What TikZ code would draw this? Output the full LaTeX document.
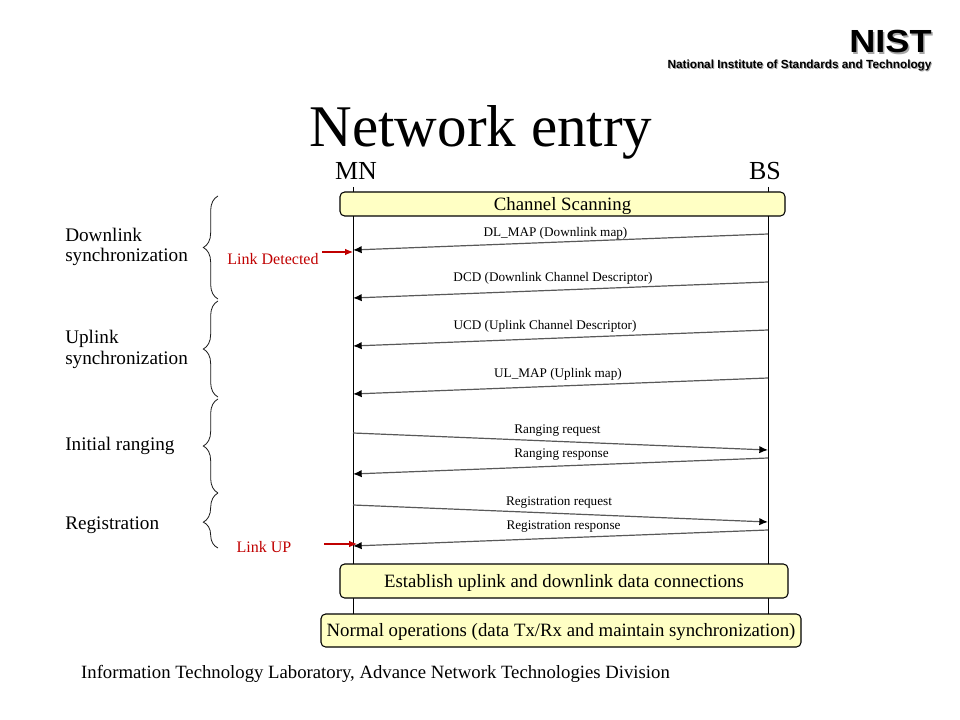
\documentclass[tikz,border=0pt]{standalone}
\usepackage{fontspec}
\setmainfont{Liberation Serif}
\newfontfamily\logofont{Liberation Sans}
\usetikzlibrary{arrows.meta,decorations.pathreplacing}
\definecolor{boxyellow}{HTML}{FFFFC4}
\definecolor{linkred}{HTML}{C00000}
\tikzset{
  lifeline/.style={draw=black, line width=0.6pt},
  msg/.style={draw=black!65, line width=0.9pt, -{Latex[black,length=6.5pt,width=5.5pt]}},
  msglabel/.style={inner sep=0pt, font=\fontsize{9.9}{11}\selectfont},
  phasebox/.style={draw=black, line width=0.8pt, fill=boxyellow, rounded corners=3.5pt, inner sep=0pt, text height=12.5pt, text depth=3pt, font=\fontsize{14.1}{16}\selectfont},
  phase/.style={inner sep=0pt, anchor=west, align=left, font=\fontsize{14.4}{15.4}\selectfont},
  linklabel/.style={inner sep=0pt, text=linkred, font=\fontsize{12}{14}\selectfont},
  linkarrow/.style={draw=linkred, line width=0.8pt, -{Latex[length=6pt,width=5pt]}},
  phasebrace/.style={draw=black!90, line width=0.6pt, decorate},
  logomark/.style={inner sep=0pt, text height=17pt, text depth=0pt, xscale=1.13, transform shape, font=\logofont\bfseries\fontsize{24}{24}\selectfont},
  logoname/.style={inner sep=0pt, text height=6.5pt, text depth=1.5pt, font=\logofont\bfseries\fontsize{8.85}{10}\selectfont},
}
\begin{document}
\begin{tikzpicture}[x=0.75pt, y=-0.75pt]
  \useasboundingbox (0,0) rectangle (960,720);

  % logo
  \node[logomark, text=black!35] (nistshadow) at (892,43) {NIST};
  \node[logomark] (nist) at (890.5,41.5) {NIST};
  \node[logoname, text=black!35] (nistnameshadow) at (800.5,66) {National Institute of Standards and Technology};
  \node[logoname] (nistname) at (799.5,65) {National Institute of Standards and Technology};

  \node[inner sep=0pt, font=\fontsize{44.3}{50}\selectfont] (title) at (481,132) {Network entry};
  \node[inner sep=0pt, font=\fontsize{19.5}{22}\selectfont] (mn) at (356,171) {MN};
  \node[inner sep=0pt, font=\fontsize{19.5}{22}\selectfont] (bs) at (765,171) {BS};

  % lifelines
  \coordinate (mntop) at (353,187);
  \coordinate (mnbot) at (353,615);
  \coordinate (bstop) at (768,187);
  \coordinate (bsbot) at (768,615);
  \draw[lifeline] (mntop) -- (mnbot);
  \draw[lifeline] (bstop) -- (bsbot);

  \node[phasebox, minimum width=333.75pt, minimum height=18pt] (scan) at (562.5,204) {Channel Scanning};
  \node[phasebox, minimum width=336pt, minimum height=25.5pt] (establish) at (564,581) {Establish uplink and downlink data connections};
  \node[phasebox, minimum width=360pt, minimum height=24.75pt] (normal) at (561,630.5) {Normal operations (data Tx/Rx and maintain synchronization)};

  % messages
  \coordinate (dlmapb) at (768,234);
  \coordinate (dlmapm) at (353,250);
  \coordinate (dcdb) at (768,282);
  \coordinate (dcdm) at (353,298);
  \coordinate (ucdb) at (768,330);
  \coordinate (ucdm) at (353,346);
  \coordinate (ulmapb) at (768,378);
  \coordinate (ulmapm) at (353,394);
  \coordinate (rreqm) at (353,433);
  \coordinate (rreqb) at (768,450);
  \coordinate (rrespb) at (768,458);
  \coordinate (rrespm) at (353,474);
  \coordinate (regreqm) at (353,505);
  \coordinate (regreqb) at (768,522);
  \coordinate (regrespb) at (768,530);
  \coordinate (regrespm) at (353,546);

  \draw[msg] (dlmapb) -- (dlmapm);
  \draw[msg] (dcdb) -- (dcdm);
  \draw[msg] (ucdb) -- (ucdm);
  \draw[msg] (ulmapb) -- (ulmapm);
  \draw[msg] (rreqm) -- (rreqb);
  \draw[msg] (rrespb) -- (rrespm);
  \draw[msg] (regreqm) -- (regreqb);
  \draw[msg] (regrespb) -- (regrespm);

  \node[msglabel] (dlmap) at (555.5,233) {DL\_MAP (Downlink map)};
  \node[msglabel] (dcd) at (553,278) {DCD (Downlink Channel Descriptor)};
  \node[msglabel] (ucd) at (545,326.5) {UCD (Uplink Channel Descriptor)};
  \node[msglabel] (ulmap) at (558,374.5) {UL\_MAP (Uplink map)};
  \node[msglabel] (rreq) at (557.5,431) {Ranging request};
  \node[msglabel] (rresp) at (561.5,455) {Ranging response};
  \node[msglabel] (regreq) at (559,503) {Registration request};
  \node[msglabel] (regresp) at (563.5,527) {Registration response};

  % link events
  \node[linklabel] (detected) at (273,259) {Link Detected};
  \coordinate (detectedtail) at (322,252);
  \coordinate (detectedtip) at (353,252);
  \draw[linkarrow] (detectedtail) -- (detectedtip);
  \node[linklabel] (linkup) at (264,547) {Link UP};
  \coordinate (linkuptail) at (324,544);
  \coordinate (linkuptip) at (357,544);
  \draw[linkarrow] (linkuptail) -- (linkuptip);

  % phases
  \node[phase] (downlink) at (65,247) {Downlink\\synchronization};
  \node[phase] (uplink) at (65,349.5) {Uplink\\synchronization};
  \node[phase] (ranging) at (65,446) {Initial ranging};
  \node[phase] (registration) at (65,525) {Registration};

  \draw[phasebrace, decoration={brace, amplitude=11pt}] (218,299) -- (218,196);
  \draw[phasebrace, decoration={brace, amplitude=11pt}] (218,397) -- (218,301);
  \draw[phasebrace, decoration={brace, amplitude=11pt}] (218,493) -- (218,399);
  \draw[phasebrace, decoration={brace, amplitude=11pt, aspect=0.47}] (218,548) -- (218,493);

  \node[inner sep=0pt, font=\fontsize{14.05}{16}\selectfont] (footer) at (375.5,674) {Information Technology Laboratory, Advance Network Technologies Division};
\end{tikzpicture}
\end{document}
